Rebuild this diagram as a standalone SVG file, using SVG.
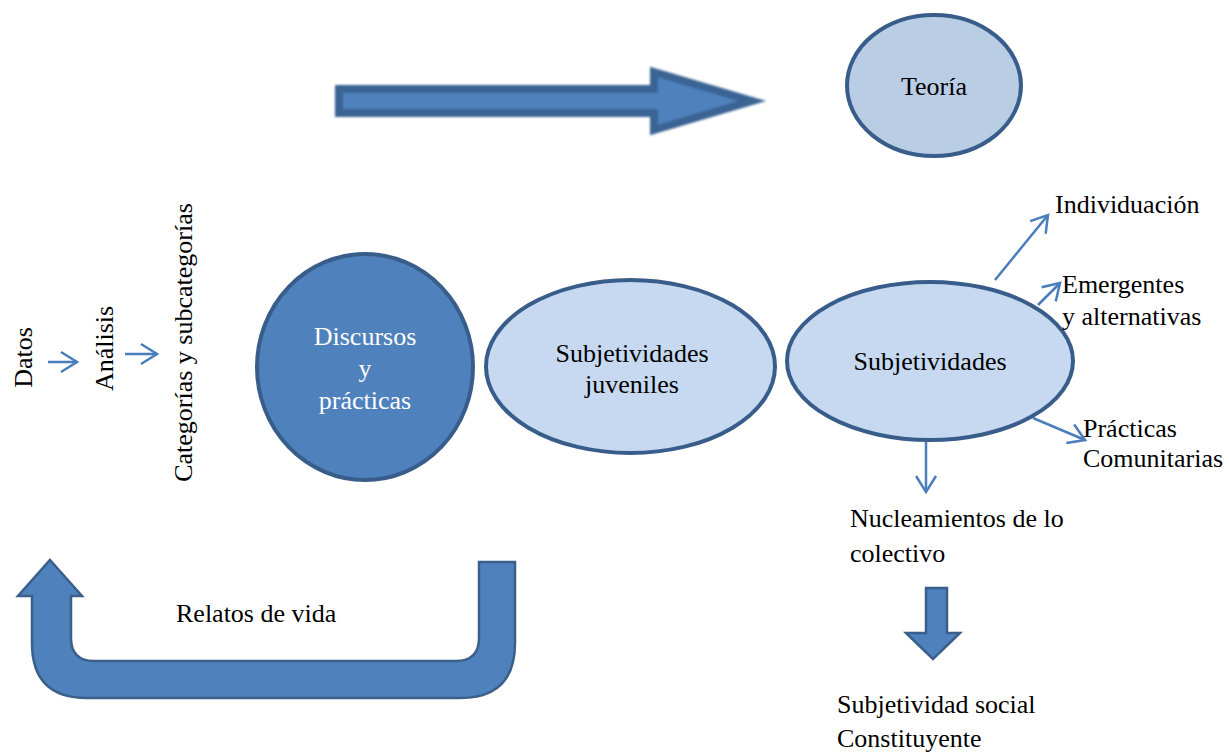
<svg xmlns="http://www.w3.org/2000/svg" width="1229" height="754" viewBox="0 0 1229 754">
<style>
  text { font-family: "Liberation Serif", "Times New Roman", serif; font-size: 26px; fill: #000; }
  .w { fill: #ffffff; }
  .node-light { fill: #C6D9F1; stroke: #385D8A; stroke-width: 4; }
  .node-teo { fill: #B9CDE5; stroke: #385D8A; stroke-width: 4; }
  .node-dark { fill: #4F81BD; stroke: #385D8A; stroke-width: 4; }
  .thin { fill: none; stroke: #4A7EBB; stroke-width: 2.5; marker-end: url(#open); }
  .block { fill: #4F81BD; stroke: #3A5F8B; stroke-width: 2.5; stroke-linejoin: miter; }
</style>
<defs>
  <marker id="open" markerUnits="userSpaceOnUse" viewBox="-20 -12 24 24" refX="0" refY="0" markerWidth="24" markerHeight="24" orient="auto">
    <path d="M -16 -10 L 0 0 L -16 10" fill="none" stroke="#4A7EBB" stroke-width="2.5"/>
  </marker>
  <filter id="soft" x="-5%" y="-20%" width="110%" height="140%">
    <feGaussianBlur stdDeviation="1.2"/>
  </filter>
</defs>
<rect width="1229" height="754" fill="#ffffff"/>

<g id="connectors">
  <g id="top-arrow" filter="url(#soft)">
    <path d="M 339 89 L 654 89 L 654 72 L 752 101 L 654 130 L 654 113 L 339 113 Z" fill="#4F81BD" stroke="#3A6394" stroke-width="8" stroke-linejoin="miter"/>
  </g>
  <line class="thin" x1="48" y1="362" x2="77" y2="362"/>
  <line class="thin" x1="125" y1="354" x2="157" y2="354"/>
  <path id="u-arrow" class="block" d="M 50 560 L 82 596 L 71 596 L 71 638 Q 71 661 94 661 L 456 661 Q 479 661 479 638 L 479 562 L 515 562 L 515 643 Q 515 698 460 698 L 87 698 Q 32 698 32 643 L 32 596 L 18 596 Z"/>
  <line class="thin" x1="995" y1="280" x2="1048" y2="215"/>
  <line class="thin" x1="1038" y1="305" x2="1060" y2="283"/>
  <line class="thin" x1="1033" y1="418" x2="1085" y2="440"/>
  <line class="thin" x1="926" y1="442" x2="926" y2="492"/>
  <path id="down-arrow" class="block" d="M 926 588 L 947 588 L 947 633 L 960 633 L 933 659 L 906 633 L 926 633 Z"/>
</g>

<g id="teoria">
  <ellipse class="node-teo" cx="934" cy="85.5" rx="87" ry="70.5"/>
  <text x="934" y="95" text-anchor="middle">Teoría</text>
</g>

<g id="left-labels">
  <text transform="translate(32,357.5) rotate(-90)" text-anchor="middle">Datos</text>
  <text transform="translate(113,348.5) rotate(-90)" text-anchor="middle">Análisis</text>
  <text transform="translate(192,342.5) rotate(-90)" text-anchor="middle">Categorías y subcategorías</text>
</g>

<g id="discursos">
  <ellipse class="node-dark" cx="365" cy="367" rx="108" ry="113"/>
  <text class="w" x="365" y="345" text-anchor="middle">Discursos</text>
  <text class="w" x="365" y="377" text-anchor="middle">y</text>
  <text class="w" x="365" y="409" text-anchor="middle">prácticas</text>
</g>

<g id="subjetividades-juveniles">
  <ellipse class="node-light" cx="630.5" cy="366.5" rx="144.5" ry="86.5"/>
  <text x="632" y="362" text-anchor="middle">Subjetividades</text>
  <text x="632" y="393" text-anchor="middle">juveniles</text>
</g>

<g id="subjetividades">
  <ellipse class="node-light" cx="930" cy="361" rx="143" ry="79"/>
  <text x="930" y="370" text-anchor="middle">Subjetividades</text>
</g>

<g id="individuacion">
  <text x="1055" y="213">Individuación</text>
</g>
<g id="emergentes">
  <text x="1062" y="293">Emergentes</text>
  <text x="1062" y="325">y alternativas</text>
</g>
<g id="practicas-comunitarias">
  <text x="1083" y="437">Prácticas</text>
  <text x="1083" y="467">Comunitarias</text>
</g>
<g id="nucleamientos">
  <text x="850" y="527">Nucleamientos de lo</text>
  <text x="850" y="562">colectivo</text>
</g>
<g id="subjetividad-social">
  <text x="837" y="713">Subjetividad social</text>
  <text x="837" y="747">Constituyente</text>
</g>
<g id="relatos">
  <text x="176" y="622">Relatos de vida</text>
</g>
</svg>
